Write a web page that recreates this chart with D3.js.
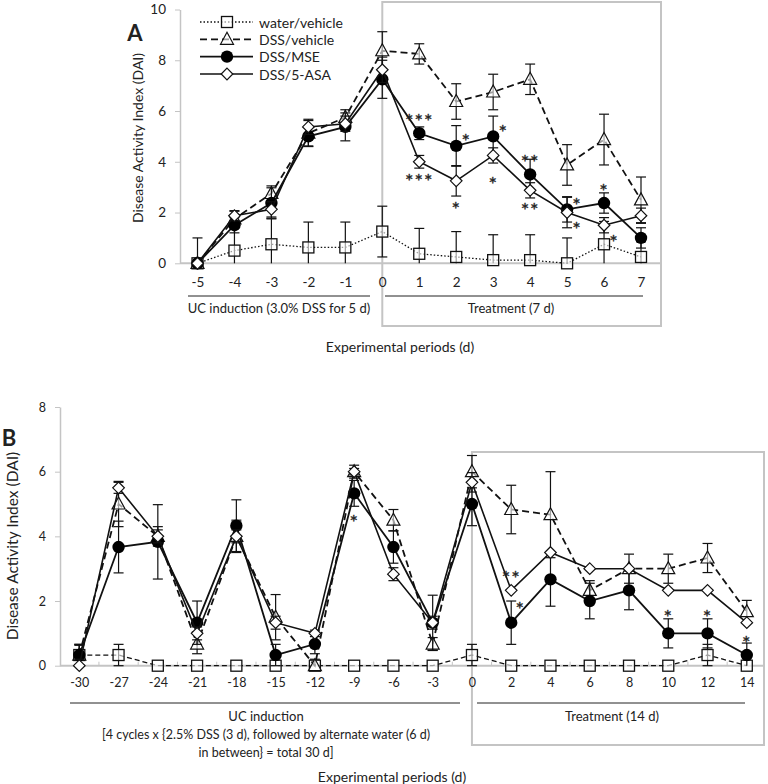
<!DOCTYPE html>
<html><head><meta charset="utf-8">
<script src="https://cdn.jsdelivr.net/npm/d3@7"></script>
<style>
body{margin:0;background:#fff}
svg{display:block}
text{font-family:Lato,"Open Sans",sans-serif;fill:#222}
</style>
</head><body>
<svg id="c" width="768" height="784"></svg>
<script>
// ---------- Panel A data ----------
const daysA = [-5,-4,-3,-2,-1,0,1,2,3,4,5,6,7];
const waterA    = [0,0.5,0.75,0.625,0.625,1.25,0.375,0.25,0.125,0.125,0,0.75,0.25];
const waterAErr = [1,1,1,1,1,1,1,1,1,1,1,0.9,0.6];
const vehA      = [0,1.75,2.75,5.125,5.75,8.375,8.25,6.375,6.75,7.25,3.875,4.875,2.5];
const vehAErr   = [0,0.3,0.3,0.5,0.3,0.75,0.4,0.7,0.7,0.6,0.8,1.0,0.9];
const mseA      = [0,1.5,2.375,5,5.375,7.25,5.125,4.625,5,3.5,2.125,2.375,1];
const mseAErr   = [0,0.3,0.6,0.4,0.55,0.75,0.25,0.8,0.8,0.6,0.5,0.4,0.4];
const asaA      = [0,1.875,2.125,5.375,5.5,7.625,4,3.25,4.25,2.875,2,1.5,1.875];
const asaAErr   = [0,0.2,0.3,0.3,0.3,0.5,0.25,0.6,0.3,0.3,0.6,0.3,0.3];
const yTicksA = [0,2,4,6,8,10];
// significance marks: [series, day, label, placement]
const starsA = [
  ["mse",1,"***","above"],["asa",1,"***","below"],
  ["mse",2,"*","upright"],["asa",2,"*","below2"],
  ["mse",3,"*","upright"],["asa",3,"*","below2"],
  ["mse",4,"**","above"],["asa",4,"**","below"],
  ["mse",5,"*","upright"],["asa",5,"*","downright"],
  ["mse",6,"*","above"],["asa",6,"*","downright"]
];

// ---------- Panel B data ----------
const daysB = [-30,-27,-24,-21,-18,-15,-12,-9,-6,-3,0,2,4,6,8,10,12,14];
const waterB    = [0.33,0.33,0,0,0,0,0,0,0,0,0.33,0,0,0,0,0,0.33,0];
const waterBErr = [0.33,0.33,0,0,0,0,0,0,0,0,0.33,0,0,0,0,0,0.33,0];
const vehB      = [0.33,5,4,0.67,4,1.5,0,6,4.5,0.67,6,4.83,4.67,2.33,3,3,3.33,1.67];
const vehBErr   = [0.3,0.7,0.3,0.3,0.5,0.7,0.2,0.2,0.33,0.2,0.5,0.75,1.33,0.3,0.45,0.45,0.45,0.35];
const mseB      = [0.33,3.67,3.83,1.33,4.33,0.33,0.67,5.33,3.67,1.33,5,1.33,2.67,2,2.33,1,1,0.33];
const mseBErr   = [0.33,0.8,1.15,0.67,0.8,0.33,0.3,0.4,0.5,0.85,0.67,0.67,0.83,0.55,0.6,0.45,0.45,0.37];
const asaB      = [0,5.5,4,1,4,1.33,1,6,2.83,1.33,5.67,2.33,3.5,3,3,2.33,2.33,1.33];
const asaBErr   = [0.2,0.17,0.2,0.2,0.2,0.2,0.1,0.1,0.2,0.2,0.3,0,0,0,0,0,0,0];
const yTicksB = [0,2,4,6,8];
const starsB = [
  ["mse",-9,"*","below2"],["asa",2,"**","above"],["mse",2,"*","upright2"],
  ["mse",10,"*","above2"],["mse",12,"*","above2"],["mse",14,"*","above"]
];

const seriesNames = ["water/vehicle","DSS/vehicle","DSS/MSE","DSS/5-ASA"];

// ---------- drawing ----------
const svg = d3.select("#c");
const GRAY = "#c4c4c4";

function markerPath(type, g, cx, cy) {
  if (type === "square") {
    g.append("rect").attr("x",cx-5.5).attr("y",cy-5.5).attr("width",11).attr("height",11)
      .attr("fill","#fff").attr("fill-opacity",0.6).attr("stroke","#111").attr("stroke-width",1.3);
  } else if (type === "triangle") {
    g.append("path").attr("d",`M${cx},${cy-7}L${cx+6.5},${cy+5}L${cx-6.5},${cy+5}Z`)
      .attr("fill","#fff").attr("fill-opacity",0.6).attr("stroke","#111").attr("stroke-width",1.2);
  } else if (type === "circle") {
    g.append("circle").attr("cx",cx).attr("cy",cy).attr("r",6.2).attr("fill","#000");
  } else {
    g.append("path").attr("d",`M${cx},${cy-5.8}L${cx+5.8},${cy}L${cx},${cy+5.8}L${cx-5.8},${cy}Z`)
      .attr("fill","#fff").attr("stroke","#111").attr("stroke-width",1.2);
  }
}

const styles = {
  water:  {marker:"square",   dash:null, width:1.3},
  veh:    {marker:"triangle", dash:"7,4", width:1.8},
  mse:    {marker:"circle",   dash:null, width:1.8},
  asa:    {marker:"diamond",  dash:null, width:1.6}
};

function drawPanel(cfg) {
  const g = svg.append("g");
  const x = d3.scalePoint().domain(cfg.days).range(cfg.xRange);
  const y = d3.scaleLinear().domain([0, cfg.ymax]).range(cfg.yRange);

  // highlight box
  g.append("rect").attr("x",x(0)).attr("y",cfg.boxTop)
    .attr("width",cfg.boxRight - x(0)).attr("height",cfg.boxBottom - cfg.boxTop)
    .attr("fill","none").attr("stroke",GRAY).attr("stroke-width",2);

  // y axis
  const ya = g.append("g").attr("transform",`translate(${cfg.axisX},0)`)
    .call(d3.axisLeft(y).tickValues(cfg.yTicks).tickSize(5).tickSizeOuter(0).tickPadding(9));
  ya.select(".domain").attr("stroke",GRAY).attr("stroke-width",1.5);
  ya.selectAll(".tick line").attr("stroke",GRAY);
  ya.selectAll(".tick text").attr("font-family","Lato, sans-serif").attr("font-size",cfg.tickFont).attr("fill","#222");

  // x axis
  const xa = g.append("g").attr("transform",`translate(0,${y(0)})`)
    .call(d3.axisBottom(x).tickSize(0).tickPadding(cfg.xPad));
  xa.select(".domain").remove();
  xa.selectAll(".tick text").attr("font-family","Lato, sans-serif").attr("font-size",cfg.tickFont).attr("fill","#222");
  g.append("line").attr("x1",cfg.axisX).attr("x2",cfg.axisRight).attr("y1",y(0)).attr("y2",y(0))
    .attr("stroke",GRAY).attr("stroke-width",2);
  if (cfg.betweenTicks) {
    const step = x.step();
    cfg.days.slice(0,-1).forEach(d => {
      g.append("line").attr("x1",x(d)+step/2).attr("x2",x(d)+step/2).attr("y1",y(0)).attr("y2",y(0)-4)
        .attr("stroke",GRAY).attr("stroke-width",1);
    });
  }

  // series
  const data = {
    water:{v:cfg.water,e:cfg.waterErr}, veh:{v:cfg.veh,e:cfg.vehErr},
    mse:{v:cfg.mse,e:cfg.mseErr}, asa:{v:cfg.asa,e:cfg.asaErr}
  };
  const line = d3.line().x(d=>x(d.day)).y(d=>y(d.v));
  ["water","veh","mse","asa"].forEach(k => {
    const st = styles[k];
    const pts = cfg.days.map((d,i)=>({day:d, v:data[k].v[i], e:data[k].e[i]}));
    const sg = g.append("g");
    const dash = k==="water" ? cfg.waterDash : st.dash;
    sg.append("path").datum(pts).attr("d",line).attr("fill","none").attr("stroke","#111")
      .attr("stroke-width",st.width).attr("stroke-dasharray",dash);
    pts.forEach(p => {
      if (!p.e) return;
      const lo = Math.max(0, p.v - p.e), hi = Math.min(cfg.ymax, p.v + p.e);
      const cx = x(p.day);
      sg.append("line").attr("x1",cx).attr("x2",cx).attr("y1",y(lo)).attr("y2",y(hi))
        .attr("stroke","#111").attr("stroke-width",1.2);
      [[lo, p.v - p.e >= 0],[hi, true]].forEach(([val,show]) => {
        if (!show) return;
        sg.append("line").attr("x1",cx-5).attr("x2",cx+5).attr("y1",y(val)).attr("y2",y(val))
          .attr("stroke","#111").attr("stroke-width",1.2);
      });
    });
    pts.forEach(p => markerPath(st.marker, sg, x(p.day), y(p.v)));
  });

  // significance marks
  const offs = {above:[0,-17], above2:[0,-21], below:[0,15], below2:[0,24],
    upright:[10,-9], upright2:[9,-18], downright:[10,12]};
  cfg.stars.forEach(([s,day,lab,pl]) => {
    const i = cfg.days.indexOf(day);
    const v = data[s].v[i];
    const o = offs[pl];
    g.append("text").attr("x",x(day)+o[0]).attr("y",y(v)+o[1]+11.5)
      .attr("text-anchor","middle").attr("font-family","Liberation Sans, Arial, sans-serif")
      .attr("font-size",20).attr("letter-spacing",1).attr("fill","#222")
      .attr("stroke","#222").attr("stroke-width",0.35).text(lab);
  });

  // y label
  g.append("text").attr("transform",`translate(${cfg.yLabX},${cfg.yLabY}) rotate(-90)`)
    .attr("text-anchor","middle").attr("dominant-baseline","central")
    .attr("font-size",cfg.yLabFont).text("Disease Activity Index (DAI)");
  return {g,x,y};
}

// Panel A
const A = drawPanel({
  days:daysA, xRange:[197.5,641], ymax:10, yRange:[263.3,9.5], yTicks:yTicksA,
  axisX:180, axisRight:660, boxTop:2, boxBottom:326, boxRight:661,
  water:waterA, waterErr:waterAErr, veh:vehA, vehErr:vehAErr, mse:mseA, mseErr:mseAErr, asa:asaA, asaErr:asaAErr,
  waterDash:"1.5,2", tickFont:13.5, xPad:14, stars:starsA, yLabX:137, yLabY:138, yLabFont:14, betweenTicks:false
});
// Panel A annotations
A.g.append("text").attr("x",135).attr("y",41).attr("text-anchor","middle").attr("font-family","Liberation Sans, Arial, sans-serif")
  .attr("font-weight","bold").attr("font-size",22).attr("fill","#000").text("A");
A.g.append("line").attr("x1",188).attr("x2",370).attr("y1",296).attr("y2",296).attr("stroke","#222").attr("stroke-width",1);
A.g.append("line").attr("x1",385).attr("x2",643).attr("y1",296).attr("y2",296).attr("stroke","#222").attr("stroke-width",1);
A.g.append("text").attr("x",279).attr("y",313).attr("text-anchor","middle").attr("font-size",13).text("UC induction (3.0% DSS for 5 d)");
A.g.append("text").attr("x",511).attr("y",313).attr("text-anchor","middle").attr("font-size",13).text("Treatment (7 d)");
A.g.append("text").attr("x",400).attr("y",352).attr("text-anchor","middle").attr("font-size",14).text("Experimental periods (d)");

// legend
const legKeys = ["water","veh","mse","asa"];
const legY = d3.scalePoint().domain(seriesNames).range([22,74]);
legKeys.forEach((k,i) => {
  const st = styles[k];
  const cy = legY(seriesNames[i]);
  const lg = A.g.append("g");
  lg.append("line").attr("x1",200).attr("x2",253).attr("y1",cy).attr("y2",cy).attr("stroke","#111")
    .attr("stroke-width",st.width).attr("stroke-dasharray",k==="water"?"1.5,2":st.dash);
  markerPath(st.marker, lg, 227, cy);
  lg.append("text").attr("x",259).attr("y",cy).attr("dominant-baseline","central").attr("font-size",14).text(seriesNames[i]);
});

// Panel B
const B = drawPanel({
  days:daysB, xRange:[79.3,746.8], ymax:8, yRange:[665.7,407], yTicks:yTicksB,
  axisX:60, axisRight:764, boxTop:452, boxBottom:745, boxRight:764,
  water:waterB, waterErr:waterBErr, veh:vehB, vehErr:vehBErr, mse:mseB, mseErr:mseBErr, asa:asaB, asaErr:asaBErr,
  waterDash:"5,3", tickFont:12.5, xPad:12, stars:starsB, yLabX:12, yLabY:546, yLabFont:15.5, betweenTicks:true
});
B.g.append("text").attr("x",9).attr("y",446).attr("text-anchor","middle").attr("font-family","Liberation Sans, Arial, sans-serif")
  .attr("font-weight","bold").attr("font-size",22).attr("fill","#000").text("B");
B.g.append("line").attr("x1",70).attr("x2",460).attr("y1",703).attr("y2",703).attr("stroke","#222").attr("stroke-width",1);
B.g.append("line").attr("x1",477).attr("x2",745).attr("y1",703).attr("y2",703).attr("stroke","#222").attr("stroke-width",1);
B.g.append("text").attr("x",266).attr("y",721).attr("text-anchor","middle").attr("font-size",13).text("UC induction");
B.g.append("text").attr("x",266).attr("y",739).attr("text-anchor","middle").attr("font-size",12.5).text("[4 cycles x {2.5% DSS (3 d), followed by alternate water (6 d)");
B.g.append("text").attr("x",266).attr("y",757).attr("text-anchor","middle").attr("font-size",12.5).text("in between} = total 30 d]");
B.g.append("text").attr("x",612).attr("y",721).attr("text-anchor","middle").attr("font-size",13).text("Treatment (14 d)");
B.g.append("text").attr("x",392).attr("y",782).attr("text-anchor","middle").attr("font-size",14).text("Experimental periods (d)");
</script>
</body></html>
